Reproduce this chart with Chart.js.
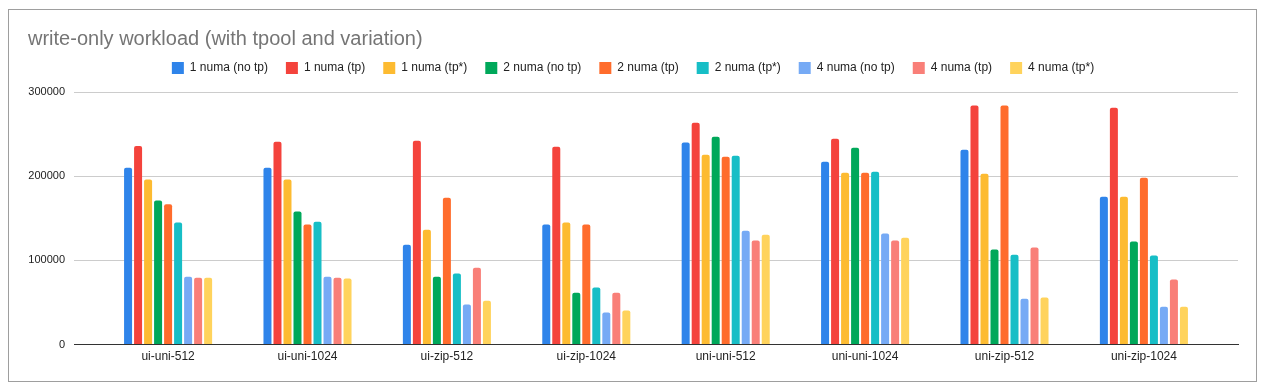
<!DOCTYPE html>
<html>
<head>
<meta charset="utf-8">
<script src="https://cdn.jsdelivr.net/npm/chart.js@4/dist/chart.umd.min.js"></script>
<style>
  html, body { margin: 0; padding: 0; background: #fff; }
  #marco {
    position: absolute; left: 8px; top: 9px;
    width: 1249px; height: 373px;
    box-sizing: border-box; border: 1px solid #9e9e9e;
  }
  #grafico { display: block; }
</style>
</head>
<body>
<div id="marco"><canvas id="grafico" width="1247" height="371"></canvas></div>
<script>
// ===== DATOS =====
const categorias = ['ui-uni-512', 'ui-uni-1024', 'ui-zip-512', 'ui-zip-1024',
    'uni-uni-512', 'uni-uni-1024', 'uni-zip-512', 'uni-zip-1024'];

const series = ['1 numa (no tp)', '1 numa (tp)', '1 numa (tp*)',
    '2 numa (no tp)', '2 numa (tp)', '2 numa (tp*)',
    '4 numa (no tp)', '4 numa (tp)', '4 numa (tp*)'];

const numa1_notp  = [210000, 210000, 118700, 142500, 240000, 217300, 231500, 175700];
const numa1_tp    = [236000, 241000, 242000, 235000, 263500, 244600, 284000, 281400];
const numa1_tpx   = [196000, 196000, 136500, 145000, 225500, 204200, 203000, 175700];
const numa2_notp  = [171000, 158000, 80700, 61700, 247000, 233900, 112800, 122300];
const numa2_tp    = [166600, 142500, 174500, 142500, 223000, 204200, 284000, 198300];
const numa2_tpx   = [145000, 146000, 84300, 67700, 224400, 205400, 106800, 105700];
const numa4_notp  = [80700, 80700, 47500, 38000, 135300, 131800, 54600, 45100];
const numa4_tp    = [79500, 79500, 91400, 61700, 123500, 123500, 115200, 77200];
const numa4_tpx   = [79500, 78400, 52200, 40400, 130600, 127000, 55800, 45100];

const valoresY = [0, 100000, 200000, 300000];

const colores = ['#2f84ea', '#f4433c', '#fdbb31', '#00a85a', '#ff6c2c',
    '#17bec6', '#76aaf5', '#f97f78', '#ffd35c'];

const todos = [numa1_notp, numa1_tp, numa1_tpx, numa2_notp, numa2_tp,
    numa2_tpx, numa4_notp, numa4_tp, numa4_tpx];

// margen extra bajo la leyenda
const margenLeyenda = {
    id: 'margenLeyenda',
    beforeInit(chart) {
        const fitOriginal = chart.legend.fit;
        chart.legend.fit = function () {
            fitOriginal.bind(chart.legend)();
            this.height += 8;
        };
    }
};

// ===== GRÁFICO =====
const ctx = document.getElementById('grafico').getContext('2d');
new Chart(ctx, {
    type: 'bar',
    data: {
        labels: categorias,
        datasets: series.map((nombre, i) => ({
            label: nombre,
            data: todos[i],
            backgroundColor: colores[i],
            borderRadius: { topLeft: 2, topRight: 2 },
            borderSkipped: 'bottom',
            barPercentage: 0.8,
            categoryPercentage: 0.646
        }))
    },
    plugins: [margenLeyenda],
    options: {
        responsive: false,
        animation: false,
        layout: { padding: { left: 19, right: 18, top: 0, bottom: 12 } },
        plugins: {
            title: {
                display: true,
                text: 'write-only workload (with tpool and variation)',
                align: 'start',
                color: '#757575',
                font: { family: 'Arial, "Liberation Sans"', size: 20, weight: 'normal' },
                padding: { top: 17, bottom: -7 }
            },
            legend: {
                labels: {
                    color: '#222',
                    font: { family: 'Arial, "Liberation Sans"', size: 12 },
                    boxWidth: 12,
                    boxHeight: 12,
                    padding: 18
                }
            },
            tooltip: { enabled: false }
        },
        scales: {
            x: {
                grid: { display: false, drawTicks: false },
                border: { color: '#333' },
                // hueco a ambos lados de las categorías
                afterBuildTicks: axis => {
                    axis._startValue -= 0.175;
                    axis._valueRange += 0.35;
                },
                ticks: {
                    color: '#222',
                    font: { family: 'Arial, "Liberation Sans"', size: 12 },
                    padding: 5,
                    maxRotation: 0
                }
            },
            y: {
                min: 0,
                max: 300000,
                afterBuildTicks: axis => { axis.ticks = valoresY.map(v => ({ value: v })); },
                afterFit: axis => { axis.width = 46; },
                border: { display: false },
                grid: {
                    drawTicks: false,
                    color: c => c.tick && c.tick.value === 0 ? '#333' : '#ccc'
                },
                ticks: {
                    color: '#222',
                    font: { family: 'Arial, "Liberation Sans"', size: 11 },
                    padding: 9,
                    callback: v => String(v)
                }
            }
        }
    }
});
</script>
</body>
</html>
